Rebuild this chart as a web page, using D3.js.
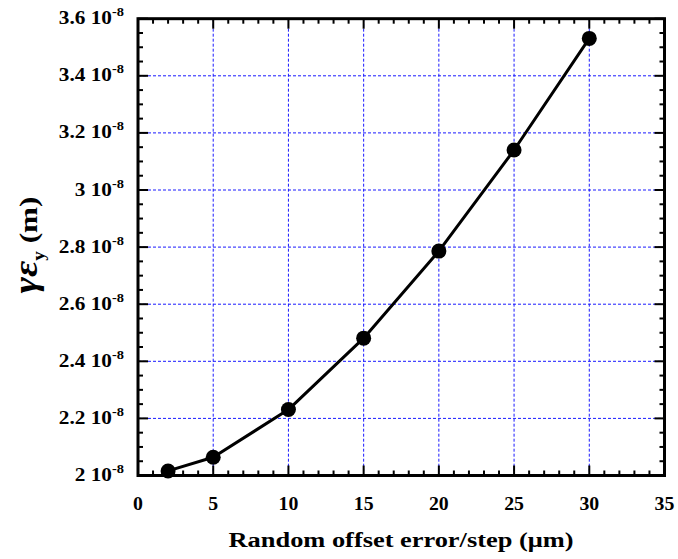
<!DOCTYPE html>
<html>
<head>
<meta charset="utf-8">
<script src="https://cdn.jsdelivr.net/npm/d3@7"></script>
<style>
  body { margin: 0; background: #fff; }
  text { font-family: "Liberation Serif", "Times New Roman", serif; font-weight: bold; }
</style>
</head>
<body>
<div id="chart"></div>
<script>
// data (emittance in units of 1e-8 m)
const offsetErr = [2, 5, 10, 15, 20, 25, 30];
const emittance = [2.016, 2.064, 2.231, 2.481, 2.786, 3.140, 3.531];

const xTicks = [0, 5, 10, 15, 20, 25, 30, 35];
const yTicks = [2, 2.2, 2.4, 2.6, 2.8, 3, 3.2, 3.4, 3.6];
const yTickLabels = ['2', '2.2', '2.4', '2.6', '2.8', '3', '3.2', '3.4', '3.6'];

const width = 678, height = 559;
const plotL = 138, plotR = 664.5, plotT = 18.7, plotB = 475.5;

const svg = d3.select('#chart')
    .append('svg')
    .attr('width', width)
    .attr('height', height);

const x = d3.scaleLinear().domain([0, 35]).range([plotL, plotR]);
const y = d3.scaleLinear().domain([2, 3.6]).range([plotB, plotT]);

// grid lines
const grid = svg.append('g')
    .attr('stroke', '#1a1aff')
    .attr('stroke-width', 1)
    .attr('stroke-dasharray', '3,2');
grid.selectAll('line.v')
    .data(xTicks.slice(1, -1))
    .enter().append('line')
    .attr('class', 'v')
    .attr('x1', d => x(d)).attr('x2', d => x(d))
    .attr('y1', plotT).attr('y2', plotB);
grid.selectAll('line.h')
    .data(yTicks.slice(1, -1))
    .enter().append('line')
    .attr('class', 'h')
    .attr('x1', plotL).attr('x2', plotR)
    .attr('y1', d => y(d)).attr('y2', d => y(d));

// ticks on all four sides, pointing inward
const xMinor = d3.range(0, 35.01, 1);
const yMinor = d3.range(2, 3.601, 0.05);
const isMajorX = d => Math.abs(d / 5 - Math.round(d / 5)) < 1e-6;
const isMajorY = d => Math.abs(d / 0.2 - Math.round(d / 0.2)) < 1e-6;
const ticks = svg.append('g').attr('stroke', '#000').attr('stroke-width', 2);

ticks.selectAll('line.xb')
    .data(xMinor).enter().append('line')
    .attr('x1', d => x(d)).attr('x2', d => x(d))
    .attr('y1', plotB).attr('y2', d => plotB - (isMajorX(d) ? 10 : 5));
ticks.selectAll('line.xt')
    .data(xMinor).enter().append('line')
    .attr('x1', d => x(d)).attr('x2', d => x(d))
    .attr('y1', plotT).attr('y2', d => plotT + (isMajorX(d) ? 10 : 5));
ticks.selectAll('line.yl')
    .data(yMinor).enter().append('line')
    .attr('y1', d => y(d)).attr('y2', d => y(d))
    .attr('x1', plotL).attr('x2', d => plotL + (isMajorY(d) ? 10 : 5));
ticks.selectAll('line.yr')
    .data(yMinor).enter().append('line')
    .attr('y1', d => y(d)).attr('y2', d => y(d))
    .attr('x1', plotR).attr('x2', d => plotR - (isMajorY(d) ? 10 : 5));

// frame
svg.append('rect')
    .attr('x', plotL).attr('y', plotT)
    .attr('width', plotR - plotL).attr('height', plotB - plotT)
    .attr('fill', 'none')
    .attr('stroke', '#000')
    .attr('stroke-width', 3);

// x tick labels (text in the original is a bit stretched sideways)
svg.selectAll('text.xl')
    .data(xTicks).enter().append('text')
    .attr('transform', d => `translate(${x(d)},510) scale(1.1,1)`)
    .attr('text-anchor', 'middle')
    .style('font-size', '18px')
    .text(d => d);

// y tick labels with exponent
const yl = svg.selectAll('text.yl')
    .data(yTicks).enter().append('text')
    .attr('transform', d => `translate(124,${y(d) + 5.5}) scale(1.15,1)`)
    .attr('text-anchor', 'end')
    .style('font-size', '18.5px');
yl.append('tspan').text((d, i) => yTickLabels[i] + ' 10');
yl.append('tspan').attr('dy', -8).style('font-size', '12.5px').text('-8');

// line and markers
const line = d3.line()
    .x((d, i) => x(offsetErr[i]))
    .y(d => y(d));

svg.append('path')
    .datum(emittance)
    .attr('d', line)
    .attr('fill', 'none')
    .attr('stroke', '#000')
    .attr('stroke-width', 3)
    .attr('stroke-linejoin', 'round');

svg.selectAll('circle')
    .data(emittance).enter().append('circle')
    .attr('cx', (d, i) => x(offsetErr[i]))
    .attr('cy', d => y(d))
    .attr('r', 7.5)
    .attr('fill', '#000');

// axis titles
svg.append('text')
    .attr('transform', 'translate(401,547) scale(1.2,1)')
    .attr('text-anchor', 'middle')
    .style('font-size', '22px')
    .text('Random offset error/step (μm)');

const yt = svg.append('text')
    .attr('transform', 'translate(37,245) rotate(-90) scale(1.2,1)')
    .attr('text-anchor', 'middle')
    .style('font-size', '26px');
yt.append('tspan').style('font-style', 'italic').style('font-size', '33px').text('γε');
yt.append('tspan').attr('dy', 7).style('font-size', '16px').text('y');
yt.append('tspan').attr('dy', -7).text(' (m)');
</script>
</body>
</html>
